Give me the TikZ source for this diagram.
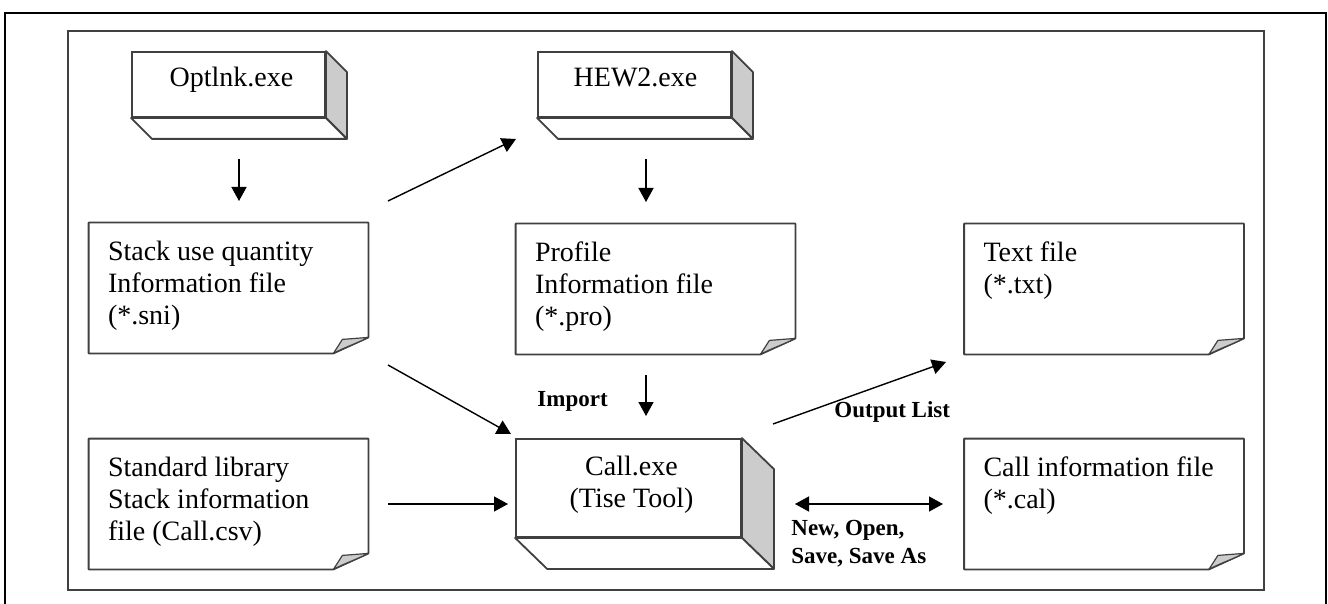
\documentclass[tikz,border=0pt]{standalone}
\usepackage{fontspec}
\setmainfont{Liberation Serif}
\usetikzlibrary{arrows.meta,calc}
\definecolor{edgegray}{HTML}{404040}
\definecolor{facegray}{HTML}{CCCCCC}
\begin{document}
\begin{tikzpicture}[x=0.5pt,y=-0.5pt,
  frontface/.style={draw=edgegray, line width=0.9pt, fill=white, inner sep=0pt,
    minimum width=96.5pt, minimum height=32.5pt},
  bigface/.style={frontface, minimum width=112.5pt, minimum height=49pt},
  sideface/.style={draw=edgegray, line width=0.9pt, fill=facegray, line join=round},
  botface/.style={draw=edgegray, line width=0.9pt, fill=white, line join=round},
  docbox/.style={inner sep=0pt, minimum width=139.5pt, minimum height=65pt},
  docline/.style={draw=edgegray, line width=0.9pt, fill=white, line join=round},
  curl/.style={draw=edgegray, line width=0.6pt, fill=facegray, line join=round},
  maintext/.style={inner sep=0pt, align=left, font=\fontsize{14}{16}\selectfont},
  centertext/.style={inner sep=0pt, align=center, font=\fontsize{14}{16}\selectfont},
  lbl/.style={inner sep=0pt, align=left, font=\fontsize{11.5}{14}\selectfont\bfseries},
  arr/.style={draw=black, line width=0.7pt, -{Triangle[length=7pt,width=7.5pt]}},
  dblarr/.style={draw=black, line width=0.7pt, {Triangle[length=7pt,width=7.5pt]}-{Triangle[length=7pt,width=7.5pt]}},
  outerframe/.style={draw=black, line width=1.1pt},
  innerframe/.style={draw=edgegray, line width=0.8pt}
]
\useasboundingbox (0,0) rectangle (1328,604);
\begin{scope}
\clip (0,0) rectangle (1328,604);
\draw[outerframe] (5,620) -- (5,13) -- (1326,13) -- (1326,620);
\end{scope}
\draw[innerframe] (68,31) rectangle (1264,590);

% 3D boxes
\node[frontface] (opt) at (228.5,84.5) {};
\draw[sideface] (opt.north east) -- ++(21,21) -- ($(opt.south east)+(21,21)$) -- (opt.south east) -- cycle;
\draw[botface] (opt.south west) -- ++(21,21) -- ($(opt.south east)+(21,21)$) -- (opt.south east) -- cycle;
\node[centertext, anchor=north] (optt) at ($(opt.north)+(3,16)$) {Optlnk.exe};

\node[frontface] (hew) at (634.5,84.5) {};
\draw[sideface] (hew.north east) -- ++(21,21) -- ($(hew.south east)+(21,21)$) -- (hew.south east) -- cycle;
\draw[botface] (hew.south west) -- ++(21,21) -- ($(hew.south east)+(21,21)$) -- (hew.south east) -- cycle;
\node[centertext, anchor=north] (hewt) at ($(hew.north)+(1,16)$) {HEW2.exe};

\node[bigface] (call) at (628.5,488) {};
\draw[sideface] (call.north east) -- ++(32,31) -- ($(call.south east)+(32,31)$) -- (call.south east) -- cycle;
\draw[botface] (call.south west) -- ++(32,31) -- ($(call.south east)+(32,31)$) -- (call.south east) -- cycle;
\node[centertext, anchor=north] (callt) at ($(call.north)+(3,18)$) {Call.exe\\(Tise Tool)};

% document boxes
\foreach \n/\cx/\cy in {stack/228.5/288, prof/655.5/289, txt/1104/289, std/228.5/504, cinfo/1104/504}{
  \node[docbox] (\n) at (\cx,\cy) {};
  \draw[docline] (\n.north west) -- (\n.north east) -- ($(\n.south east)+(0,-16)$)
     -- ($(\n.south east)+(-35,0)$) -- (\n.south west) -- cycle;
  \draw[curl] ($(\n.south east)+(-35,0)$) -- ($(\n.south east)+(-26,-14)$) -- ($(\n.south east)+(0,-16)$)
     .. controls ($(\n.south east)+(-14,-9)$) and ($(\n.south east)+(-24,-6)$) .. ($(\n.south east)+(-35,0)$) -- cycle;
}
\node[maintext, anchor=north west] (stackt) at ($(stack.north west)+(19,18)$) {Stack use quantity\\Information file\\(*.sni)};
\node[maintext, anchor=north west] (proft) at ($(prof.north west)+(19,18)$) {Profile\\Information file\\(*.pro)};
\node[maintext, anchor=north west] (txtt) at ($(txt.north west)+(19,18)$) {Text file\\(*.txt)};
\node[maintext, anchor=north west] (stdt) at ($(std.north west)+(19,18)$) {Standard library\\Stack information\\file (Call.csv)};
\node[maintext, anchor=north west] (cinfot) at ($(cinfo.north west)+(19,18)$) {Call information file\\(*.cal)};

% connectors
\coordinate (a1s) at (239,159); \coordinate (a1e) at (239,201);
\draw[arr] (a1s) -- (a1e);
\coordinate (a2s) at (646,159); \coordinate (a2e) at (646,202);
\draw[arr] (a2s) -- (a2e);
\coordinate (a3s) at (388,201); \coordinate (a3e) at (516,139);
\draw[arr] (a3s) -- (a3e);
\coordinate (a4s) at (388,365); \coordinate (a4e) at (511,434);
\draw[arr] (a4s) -- (a4e);
\coordinate (a5s) at (646,375); \coordinate (a5e) at (646,416);
\draw[arr] (a5s) -- (a5e);
\coordinate (a6s) at (388,504); \coordinate (a6e) at (508,504);
\draw[arr] (a6s) -- (a6e);
\coordinate (a7s) at (773,424); \coordinate (a7e) at (946,362);
\draw[arr] (a7s) -- (a7e);
\coordinate (a8s) at (795,504); \coordinate (a8e) at (943,504);
\draw[dblarr] (a8s) -- (a8e);

\node[lbl, anchor=west] (imp) at (537,401) {Import};
\node[lbl, anchor=west] (outl) at (834,412) {Output List};
\node[lbl, anchor=north west] (nos) at (791,520) {New, Open,\\Save, Save As};
\end{tikzpicture}
\end{document}
